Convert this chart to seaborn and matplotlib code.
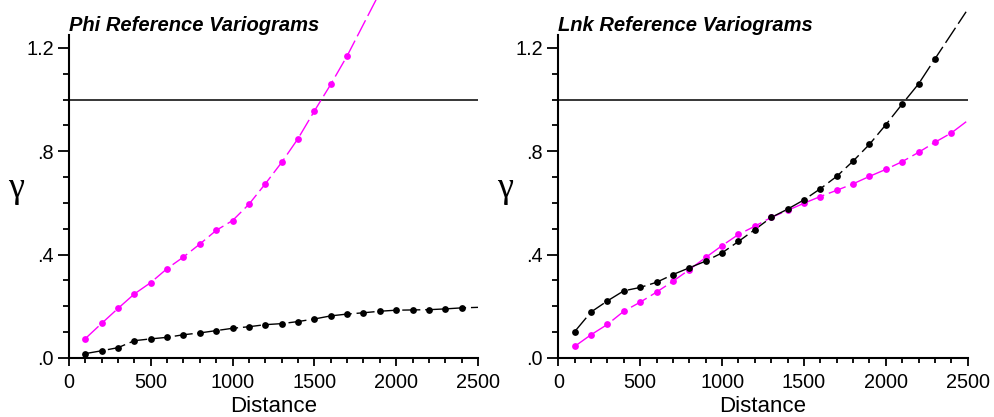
import numpy as np
import pandas as pd
import matplotlib
matplotlib.use("Agg")
import matplotlib.pyplot as plt
import seaborn as sns
from matplotlib.ticker import MultipleLocator

# ---------------- data ----------------
lags = [100, 200, 300, 400, 500, 600, 700, 800, 900, 1000, 1100, 1200,
        1300, 1400, 1500, 1600, 1700, 1800, 1900, 2000, 2100, 2200, 2300, 2400]

phi_magenta = [0.075, 0.134, 0.192, 0.248, 0.292, 0.346, 0.391, 0.441, 0.494,
               0.532, 0.595, 0.674, 0.757, 0.849, 0.956, 1.059, 1.169]
phi_magenta_end = (1880, 1.39)
phi_black = [0.017, 0.028, 0.040, 0.067, 0.074, 0.080, 0.090, 0.097, 0.106,
             0.115, 0.121, 0.129, 0.133, 0.141, 0.151, 0.163, 0.170, 0.175,
             0.181, 0.185, 0.186, 0.187, 0.190, 0.194]
phi_black_end = (2500, 0.196)

lnk_black = [0.102, 0.178, 0.221, 0.260, 0.273, 0.293, 0.323, 0.349, 0.375,
             0.407, 0.451, 0.497, 0.544, 0.576, 0.612, 0.655, 0.703, 0.762,
             0.827, 0.903, 0.983, 1.061, 1.158]
lnk_black_end = (2490, 1.34)
lnk_magenta = [0.045, 0.090, 0.130, 0.181, 0.216, 0.255, 0.297, 0.342, 0.389,
               0.435, 0.478, 0.510, 0.544, 0.571, 0.599, 0.625, 0.649, 0.674,
               0.703, 0.730, 0.760, 0.796, 0.835, 0.871]
lnk_magenta_end = (2500, 0.919)

sill = 1.0
titles = ["Phi Reference Variograms", "Lnk Reference Variograms"]
ytick_vals = [0.0, 0.4, 0.8, 1.2]
ytick_labels = [".0", ".4", ".8", "1.2"]
xtick_vals = [0, 500, 1000, 1500, 2000, 2500]
xtick_labels = ["0", "500", "1000", "1500", "2000", "2500"]

MAGENTA = "#FF00FF"
BLACK = "#000000"

sns.set_style("ticks")
plt.rcParams["font.family"] = ["Liberation Sans", "DejaVu Sans"]
plt.rcParams["text.color"] = "black"
plt.rcParams["axes.labelcolor"] = "black"
plt.rcParams["xtick.color"] = "black"
plt.rcParams["ytick.color"] = "black"
plt.rcParams["axes.edgecolor"] = "black"

fig = plt.figure(figsize=(9.95, 4.17), dpi=100)
ax1 = fig.add_axes([0.0693, 0.1415, 0.4111, 0.7745])
ax2 = fig.add_axes([0.5611, 0.1415, 0.4115, 0.7745])

panels = [
    (ax1, [(phi_magenta, phi_magenta_end, MAGENTA), (phi_black, phi_black_end, BLACK)]),
    (ax2, [(lnk_magenta, lnk_magenta_end, MAGENTA), (lnk_black, lnk_black_end, BLACK)]),
]

for (ax, series), title in zip(panels, titles):
    ax.axhline(sill, color="black", lw=1.1, zorder=1)
    for vals, end, col in series:
        xs = lags[:len(vals)]
        line_df = pd.DataFrame({"x": xs + [end[0]], "y": vals + [end[1]]})
        sns.lineplot(data=line_df, x="x", y="y", ax=ax, color=col, lw=1.0,
                     linestyle=(0, (13, 3.5)), sort=False, clip_on=False, zorder=2)
        pt_df = pd.DataFrame({"x": xs, "y": vals})
        sns.scatterplot(data=pt_df, x="x", y="y", ax=ax, color=col, s=24,
                        edgecolor=col, linewidth=0, clip_on=False, zorder=3)
    ax.set_xlim(0, 2500)
    ax.set_ylim(0, 1.25)
    ax.set_xticks(xtick_vals)
    ax.set_xticklabels(xtick_labels)
    ax.set_yticks(ytick_vals)
    ax.set_yticklabels(ytick_labels)
    ax.xaxis.set_minor_locator(MultipleLocator(100))
    ax.yaxis.set_minor_locator(MultipleLocator(0.1))
    ax.tick_params(axis="both", which="both", color="black", labelcolor="black")
    ax.tick_params(axis="both", which="major", labelsize=14.3, width=1.3)
    ax.tick_params(axis="y", which="major", length=8, pad=3)
    ax.tick_params(axis="y", which="minor", length=4, width=1.3)
    ax.tick_params(axis="x", which="major", length=5.5, pad=5)
    ax.tick_params(axis="x", which="minor", length=3.6, width=1.3)
    sns.despine(ax=ax)
    for sp in ["left", "bottom"]:
        ax.spines[sp].set_linewidth(1.5)
        ax.spines[sp].set_color("black")
    ax.set_xlabel("Distance", fontsize=16, labelpad=3, color="black")
    ax.set_ylabel("γ", fontsize=26, rotation=0, color="black",
                  family=["Liberation Serif", "DejaVu Serif"])
    ax.yaxis.set_label_coords(-0.13, 0.475)
    ax.set_title(title, loc="left", fontsize=14.5, fontweight="bold",
                 fontstyle="italic", pad=3, color="black")

fig.savefig("out.png", dpi=100)
